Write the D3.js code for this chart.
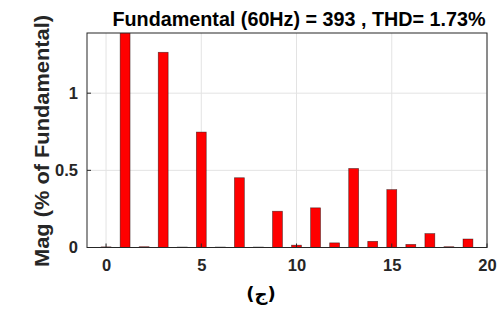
<!DOCTYPE html>
<html>
<head>
<meta charset="utf-8">
<script src="https://cdn.jsdelivr.net/npm/d3@7"></script>
<style>
html,body{margin:0;padding:0;background:#fff;}
svg{display:block;}
</style>
</head>
<body>
<svg id="chart" width="503" height="314"></svg>
<script>
// Harmonic orders and magnitudes (% of fundamental)
const harmonics = [0,1,2,3,4,5,6,7,8,9,10,11,12,13,14,15,16,17,18,19];
const magnitudes = [0.004,100,0.005,1.265,0.003,0.748,0.003,0.452,0.003,0.235,0.015,0.257,0.03,0.512,0.04,0.375,0.02,0.09,0.005,0.055];
const xTicks = [0,5,10,15,20];
const yTicks = [0,0.5,1];
const yTickLabels = ["0","0.5","1"];
const titleText = "Fundamental (60Hz) = 393 , THD= 1.73%";
const yLabelText = "Mag (% of Fundamental)";
const xLabelText = "(ج)";

const svg = d3.select("#chart");
const L = 87, R = 487, T = 33, B = 247.5;

const x = d3.scaleLinear().domain([-1, 20]).range([L, R]);
const y = d3.scaleLinear().domain([0, 1.39]).range([B, T]);

// grid
const grid = svg.append("g");
grid.selectAll("line.vg").data(xTicks).join("line")
  .attr("x1", d => x(d)).attr("x2", d => x(d))
  .attr("y1", T).attr("y2", B)
  .attr("stroke", "#e3e3e3").attr("stroke-width", 1);
grid.selectAll("line.hg").data(yTicks.filter(d => d > 0)).join("line")
  .attr("x1", L).attr("x2", R)
  .attr("y1", d => y(d)).attr("y2", d => y(d))
  .attr("stroke", "#e3e3e3").attr("stroke-width", 1);

// clip
svg.append("clipPath").attr("id", "clip").append("rect")
  .attr("x", L).attr("y", T).attr("width", R - L).attr("height", B - T);

const bw = 0.52;
svg.append("g").attr("clip-path", "url(#clip)")
  .selectAll("rect").data(harmonics).join("rect")
  .attr("x", (d) => x(d - bw / 2))
  .attr("width", x(bw) - x(0))
  .attr("y", (d, i) => y(magnitudes[i]))
  .attr("height", (d, i) => B - y(magnitudes[i]))
  .attr("fill", "#ff0000")
  .attr("stroke", "#000")
  .attr("stroke-opacity", 0.55)
  .attr("stroke-width", 0.7);

// axes
const xAxis = d3.axisBottom(x).tickValues(xTicks).tickSize(0).tickPadding(12).tickFormat(d3.format("d"));
const yAxis = d3.axisLeft(y).tickValues(yTicks).tickSize(0).tickPadding(9).tickFormat((d, i) => yTickLabels[i]);

const gx = svg.append("g").attr("transform", `translate(0,${B})`).call(xAxis);
const gy = svg.append("g").attr("transform", `translate(${L},0)`).call(yAxis);
[gx, gy].forEach(g => {
  g.select(".domain").remove();
  g.selectAll("text").attr("font-family", "Liberation Sans, Arial, sans-serif")
    .attr("font-size", 16.5).attr("font-weight", "bold").attr("fill", "#262626");
});

// inner tick marks
svg.append("g").selectAll("line").data(xTicks).join("line")
  .attr("x1", d => x(d)).attr("x2", d => x(d))
  .attr("y1", B).attr("y2", B - 4).attr("stroke", "#262626");
svg.append("g").selectAll("line").data(yTicks).join("line")
  .attr("x1", L).attr("x2", L + 4)
  .attr("y1", d => y(d)).attr("y2", d => y(d)).attr("stroke", "#262626");

// box
svg.append("rect").attr("x", L).attr("y", T).attr("width", R - L).attr("height", B - T)
  .attr("fill", "none").attr("stroke", "#262626").attr("stroke-width", 1);

// title
svg.append("text").attr("x", 299).attr("y", 26)
  .attr("text-anchor", "middle")
  .attr("font-family", "Liberation Sans, Arial, sans-serif")
  .attr("font-size", 19.5).attr("font-weight", "bold").attr("fill", "#000")
  .attr("textLength", 373).attr("lengthAdjust", "spacingAndGlyphs")
  .text(titleText);

// y label
svg.append("text")
  .attr("transform", "translate(49,141) rotate(-90)")
  .attr("text-anchor", "middle")
  .attr("font-family", "Liberation Sans, Arial, sans-serif")
  .attr("font-size", 20.5).attr("font-weight", "bold").attr("fill", "#262626")
  .attr("textLength", 252).attr("lengthAdjust", "spacingAndGlyphs")
  .text(yLabelText);

// x label
svg.append("text").attr("x", 261).attr("y", 300)
  .attr("text-anchor", "middle")
  .attr("font-family", "DejaVu Sans, sans-serif")
  .attr("font-size", 18).attr("font-weight", "bold").attr("fill", "#000")
  .text(xLabelText);
</script>
</body>
</html>
